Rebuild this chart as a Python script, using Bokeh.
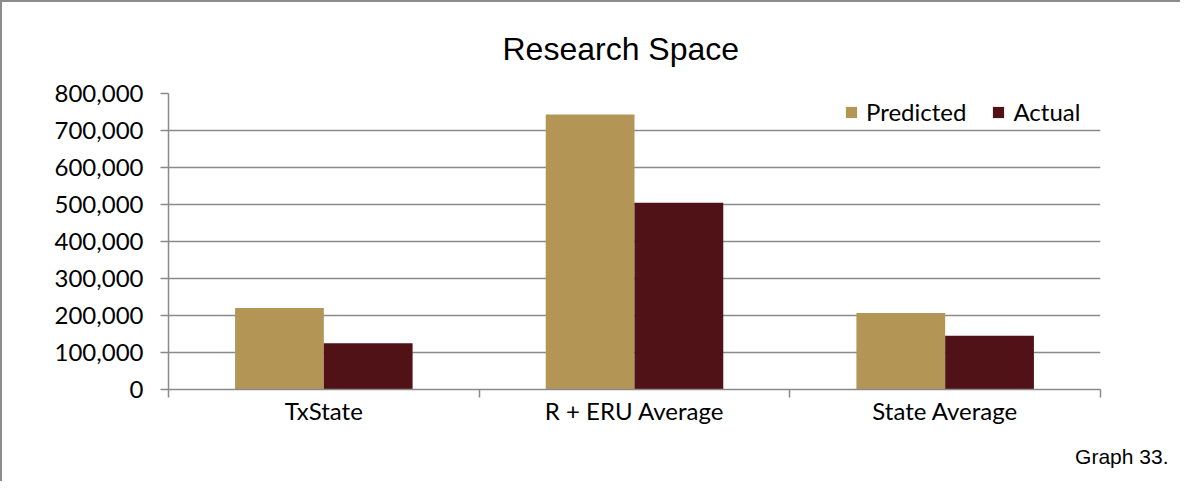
import numpy as np
from bokeh.plotting import figure
from bokeh.models import (ColumnDataSource, Range1d, FixedTicker, NumeralTickFormatter, Title)
from bokeh.embed import file_html
from bokeh.resources import INLINE

# ---- data ----
categories = ["TxState", "R + ERU Average", "State Average"]
predicted = [220000, 743000, 207000]
actual = [125000, 505000, 145000]
series_names = ["Predicted", "Actual"]
y_ticks = [0, 100000, 200000, 300000, 400000, 500000, 600000, 700000, 800000]

PRED_COLOR = "#B39656"
ACT_COLOR = "#501217"
GRID = "#8a8a8a"
LABEL_FONT = "Lato"

bar_w = 0.2857
idx = np.arange(len(categories))
src = ColumnDataSource(dict(
    xp=idx + 0.5 - bar_w / 2,
    xa=idx + 0.5 + bar_w / 2,
    pred=predicted,
    act=actual,
))

p = figure(width=1180, height=481, output_backend="svg", toolbar_location=None,
           x_range=Range1d(0, len(categories)), y_range=Range1d(0, 800000),
           min_border_left=166, min_border_right=82, min_border_top=90, min_border_bottom=94)
p.styles = {"border-top": "2px solid #8c8c8c", "border-left": "2px solid #8c8c8c"}
p.outline_line_color = None
p.background_fill_color = "white"
p.border_fill_color = "white"

p.title.text = "Research Space"
p.title.text_font = "Liberation Sans"
p.title.text_font_size = "32px"
p.title.text_font_style = "normal"
p.title.text_color = "black"
p.title.align = "left"
p.title.offset = 334
p.title.standoff = 53

p.vbar(x="xp", top="pred", width=bar_w, source=src, fill_color=PRED_COLOR,
       line_color=None, legend_label=series_names[0])
p.vbar(x="xa", top="act", width=bar_w, source=src, fill_color=ACT_COLOR,
       line_color=None, legend_label=series_names[1])

# y axis
p.yaxis.ticker = FixedTicker(ticks=y_ticks)
p.yaxis.formatter = NumeralTickFormatter(format="0,0")
p.yaxis.major_label_text_font = LABEL_FONT
p.yaxis.major_label_text_font_size = "24px"
p.yaxis.major_label_text_color = "black"
p.yaxis.major_tick_out = 8
p.yaxis.major_tick_in = 0
p.yaxis.minor_tick_line_color = None
p.yaxis.axis_line_color = GRID
p.yaxis.axis_line_width = 1.5
p.yaxis.major_tick_line_color = GRID
p.yaxis.major_tick_line_width = 1.5
p.yaxis.major_label_standoff = 17

# x axis: labels at category centres, ticks at category boundaries
centres = [float(i) + 0.5 for i in idx]
p.xaxis.ticker = FixedTicker(ticks=centres, minor_ticks=[float(i) for i in range(len(categories) + 1)])
p.xaxis.major_label_overrides = {c: name for c, name in zip(centres, categories)}
p.xaxis.major_label_text_font = LABEL_FONT
p.xaxis.major_label_text_font_size = "24px"
p.xaxis.major_label_text_color = "black"
p.xaxis.major_tick_line_color = None
p.xaxis.major_tick_out = 0
p.xaxis.major_tick_in = 0
p.xaxis.minor_tick_out = 8
p.xaxis.minor_tick_in = 0
p.xaxis.minor_tick_line_color = GRID
p.xaxis.minor_tick_line_width = 1.5
p.xaxis.axis_line_color = GRID
p.xaxis.axis_line_width = 1.5
p.xaxis.major_label_standoff = -2

p.xgrid.grid_line_color = None
p.ygrid.grid_line_color = GRID
p.ygrid.grid_line_width = 1.5

# legend
leg = p.legend[0]
leg.orientation = "horizontal"
leg.location = (676, 263)
leg.padding = 0
leg.margin = 0
leg.spacing = 25
leg.border_line_color = None
leg.background_fill_alpha = 0
leg.glyph_width = 14
leg.glyph_height = 14
leg.label_standoff = 8
leg.label_text_font = LABEL_FONT
leg.label_text_font_size = "24px"
leg.label_text_color = "black"

# footnote
p.add_layout(Title(text="Graph 33.", text_font="Liberation Sans", text_font_size="21px",
                   text_font_style="normal", text_color="black", align="right",
                   vertical_align="bottom", offset=-68, standoff=30), "below")

open("out.html", "w").write(file_html(p, INLINE))
